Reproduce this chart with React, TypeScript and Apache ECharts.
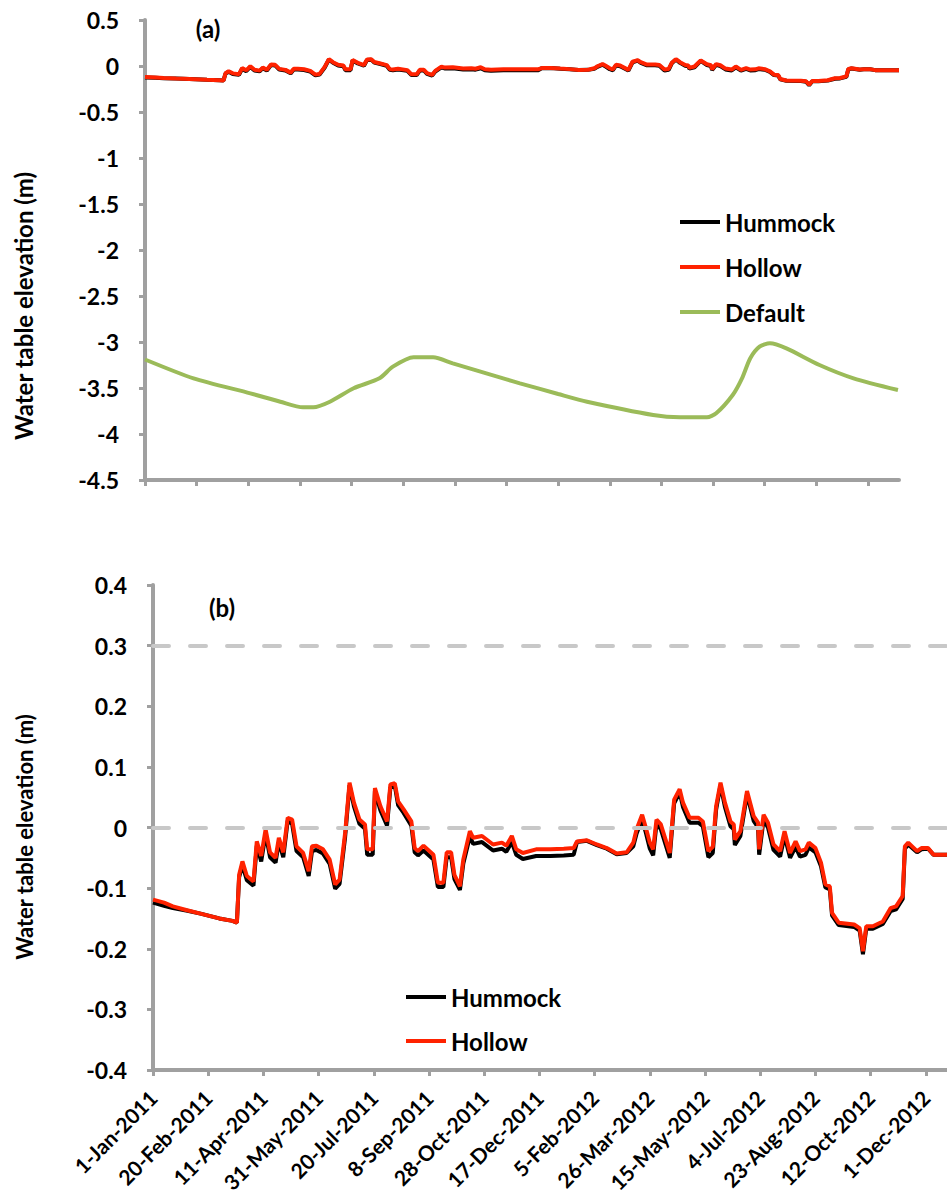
import React, { useEffect, useRef } from "react";
import * as echarts from "echarts";

// Day offsets since 1-Jan-2011 for the traced water-table records
const WT_DAYS = [0, 10, 18, 30, 43, 60, 72, 76, 78, 81, 85, 91, 94, 98, 102, 106, 111, 114, 118, 122, 126, 130, 136, 141, 144, 148, 154, 160, 165, 169, 174, 178, 182, 187, 192, 194, 199, 201, 206, 212, 215, 219, 222, 227, 234, 237, 240, 245, 254, 258, 263, 266, 270, 273, 278, 281, 287, 290, 298, 308, 316, 320, 325, 329, 335, 347, 360, 372, 381, 384, 393, 402, 411, 420, 429, 435, 438, 443, 446, 450, 453, 456, 460, 468, 472, 477, 480, 486, 494, 498, 503, 507, 510, 514, 518, 523, 526, 527, 532, 538, 544, 548, 549, 553, 557, 562, 568, 572, 577, 582, 586, 591, 594, 600, 605, 609, 613, 615, 621, 635, 640, 643, 646, 652, 661, 668, 673, 679, 681, 684, 692, 696, 702, 707, 730];

const HOLLOW = [-0.119, -0.124, -0.130, -0.136, -0.142, -0.150, -0.154, -0.157, -0.078, -0.056, -0.080, -0.089, -0.023, -0.047, -0.003, -0.041, -0.050, -0.017, -0.041, 0.016, 0.013, -0.031, -0.042, -0.072, -0.031, -0.030, -0.036, -0.053, -0.094, -0.086, -0.009, 0.074, 0.041, 0.013, 0.005, -0.036, -0.036, 0.065, 0.035, 0.010, 0.071, 0.073, 0.043, 0.030, 0.010, -0.034, -0.039, -0.030, -0.045, -0.091, -0.091, -0.041, -0.041, -0.078, -0.097, -0.053, -0.006, -0.017, -0.014, -0.028, -0.025, -0.030, -0.014, -0.036, -0.042, -0.036, -0.036, -0.035, -0.034, -0.023, -0.021, -0.028, -0.034, -0.043, -0.041, -0.025, -0.003, 0.021, 0.002, -0.025, -0.036, 0.013, 0.005, -0.042, 0.046, 0.063, 0.041, 0.016, 0.016, 0.010, -0.039, -0.032, 0.035, 0.074, 0.041, 0.010, 0.005, -0.020, -0.006, 0.060, 0.019, 0.008, -0.036, 0.021, 0.008, -0.028, -0.039, -0.006, -0.042, -0.023, -0.039, -0.036, -0.025, -0.034, -0.058, -0.094, -0.097, -0.141, -0.157, -0.160, -0.166, -0.204, -0.163, -0.163, -0.155, -0.133, -0.130, -0.113, -0.031, -0.025, -0.039, -0.034, -0.034, -0.045, -0.045];

const HUMMOCK = [-0.124, -0.129, -0.133, -0.137, -0.142, -0.150, -0.154, -0.157, -0.082, -0.062, -0.087, -0.096, -0.030, -0.056, -0.010, -0.049, -0.058, -0.024, -0.049, 0.011, 0.006, -0.039, -0.049, -0.080, -0.039, -0.037, -0.043, -0.060, -0.101, -0.093, -0.016, 0.070, 0.035, 0.006, -0.002, -0.045, -0.045, 0.060, 0.028, 0.003, 0.066, 0.069, 0.037, 0.024, 0.003, -0.041, -0.046, -0.038, -0.053, -0.098, -0.098, -0.049, -0.049, -0.085, -0.103, -0.060, -0.015, -0.027, -0.024, -0.038, -0.035, -0.040, -0.024, -0.045, -0.052, -0.047, -0.047, -0.046, -0.045, -0.024, -0.022, -0.029, -0.035, -0.044, -0.042, -0.031, -0.010, 0.014, -0.006, -0.035, -0.046, 0.006, -0.003, -0.050, 0.040, 0.058, 0.034, 0.008, 0.008, 0.002, -0.049, -0.042, 0.029, 0.070, 0.034, 0.002, -0.003, -0.029, -0.014, 0.055, 0.011, 0.000, -0.045, 0.013, 0.000, -0.037, -0.048, -0.014, -0.050, -0.032, -0.048, -0.045, -0.033, -0.041, -0.064, -0.099, -0.102, -0.145, -0.161, -0.164, -0.170, -0.209, -0.167, -0.167, -0.159, -0.138, -0.135, -0.118, -0.035, -0.028, -0.041, -0.036, -0.035, -0.045, -0.045];

// Default simulation (panel a)
const DEFAULT_DAYS = [0, 47, 102, 131, 153, 163, 179, 202, 227, 240, 260, 279, 298, 350, 363, 400, 428, 492, 518, 544, 553, 569, 578, 586, 595, 605, 621, 653, 686, 729];
const DEFAULT_VALUES = [-3.19, -3.395, -3.558, -3.649, -3.71, -3.71, -3.649, -3.503, -3.395, -3.268, -3.166, -3.166, -3.232, -3.406, -3.449, -3.565, -3.649, -3.793, -3.818, -3.818, -3.775, -3.576, -3.395, -3.177, -3.051, -3.014, -3.069, -3.25, -3.395, -3.522];

const TICK_LABELS = ["1-Jan-2011", "20-Feb-2011", "11-Apr-2011", "31-May-2011", "20-Jul-2011", "8-Sep-2011", "28-Oct-2011", "17-Dec-2011", "5-Feb-2012", "26-Mar-2012", "15-May-2012", "4-Jul-2012", "23-Aug-2012", "12-Oct-2012", "1-Dec-2012"];
const MONTHS = ["Jan", "Feb", "Mar", "Apr", "May", "Jun", "Jul", "Aug", "Sep", "Oct", "Nov", "Dec"];
const REF_LINES = [0.3, 0];

const FONT = "Lato, 'Open Sans', sans-serif";

function dayOf(label: string): number {
  const [d, m, y] = label.split("-");
  return Math.round((Date.UTC(+y, MONTHS.indexOf(m), +d) - Date.UTC(2011, 0, 1)) / 86400000);
}
const TICK_DAYS = TICK_LABELS.map(dayOf);

const pairs = (xs: number[], ys: number[]) => xs.map((x, i) => [x, ys[i]]);

export default function App() {
  const ref = useRef<HTMLDivElement>(null);
  useEffect(() => {
    if (!ref.current) return;
    const chart = echarts.init(ref.current, undefined, { renderer: "svg" });
    const axisGray = "#a0a0a0";
    const xAxisBase = (gi: number, showLabels: boolean) => ({
      gridIndex: gi,
      type: "value",
      min: 0,
      max: 730,
      axisLine: { onZero: false, lineStyle: { color: axisGray, width: 4 } },
      axisTick: { show: true, customValues: TICK_DAYS, length: 6, lineStyle: { color: axisGray, width: 3 } },
      axisLabel: {
        show: showLabels,
        customValues: TICK_DAYS,
        rotate: 45,
        margin: 24,
        color: "#000",
        fontWeight: "bold",
        fontSize: 21,
        fontFamily: FONT,
        formatter: (v: number) => TICK_LABELS[TICK_DAYS.indexOf(Math.round(v))] ?? "",
      },
      splitLine: { show: false },
    });
    const yAxisBase = (gi: number, min: number, max: number, interval: number) => ({
      gridIndex: gi,
      type: "value",
      min,
      max,
      interval,
      axisLine: { show: true, onZero: false, lineStyle: { color: axisGray, width: 4 } },
      axisTick: { show: true, length: 6, lineStyle: { color: axisGray, width: 3 } },
      axisLabel: {
        margin: 26,
        color: "#000",
        fontWeight: "bold",
        fontSize: 23,
        fontFamily: FONT,
        formatter: (v: number) => String(Math.round(v * 10) / 10),
      },
      splitLine: { show: false },
    });
    const lineSeries = (name: string, xi: number, data: number[][], color: string, extra: any = {}) => ({
      name,
      type: "line",
      xAxisIndex: xi,
      yAxisIndex: xi,
      data,
      showSymbol: false,
      symbol: "none",
      lineStyle: { color, width: 4 },
      itemStyle: { color },
      ...extra,
    });
    const legendText = { fontSize: 24, fontWeight: "bold", color: "#000", fontFamily: FONT, lineHeight: 28 };
    chart.setOption({
      animation: false,
      backgroundColor: "#fff",
      grid: [
        { left: 145, top: 20, width: 754, height: 460, containLabel: false, outerBoundsMode: "none" },
        { left: 153, top: 585, width: 806, height: 485, containLabel: false, outerBoundsMode: "none" },
      ],
      xAxis: [xAxisBase(0, false), xAxisBase(1, true)],
      yAxis: [yAxisBase(0, -4.5, 0.5, 0.5), yAxisBase(1, -0.4, 0.4, 0.1)],
      legend: [
        {
          data: ["Hummock", "Hollow", "Default"],
          orient: "vertical",
          left: 680,
          top: 208,
          padding: 0,
          itemWidth: 40,
          itemHeight: 4,
          itemGap: 17,
          icon: "rect",
          selectedMode: false,
          textStyle: legendText,
        },
        {
          data: ["Hummock", "Hollow"],
          orient: "vertical",
          left: 406,
          top: 983,
          padding: 0,
          itemWidth: 40,
          itemHeight: 4,
          itemGap: 16,
          icon: "rect",
          selectedMode: false,
          textStyle: legendText,
        },
      ],
      series: [
        lineSeries("Hummock", 0, pairs(WT_DAYS, HUMMOCK), "#000000"),
        lineSeries("Hollow", 0, pairs(WT_DAYS, HOLLOW), "#ff2200"),
        lineSeries("Default", 0, pairs(DEFAULT_DAYS, DEFAULT_VALUES), "#9bbb59", { smooth: 0.25 }),
        lineSeries("Hummock", 1, pairs(WT_DAYS, HUMMOCK), "#000000"),
        lineSeries("Hollow", 1, pairs(WT_DAYS, HOLLOW), "#ff2200", {
          markLine: {
            silent: true,
            symbol: "none",
            label: { show: false },
            lineStyle: { color: "#c8c8c8", type: [16, 21], width: 4, cap: "round" },
            data: REF_LINES.map((v) => ({ yAxis: v })),
          },
        }),
      ],
      graphic: [
        { type: "text", x: 208, y: 28, style: { text: "(a)", font: `bold 24px ${FONT}`, fill: "#000", align: "center", verticalAlign: "middle" } },
        { type: "text", x: 222, y: 607, style: { text: "(b)", font: `bold 24px ${FONT}`, fill: "#000", align: "center", verticalAlign: "middle" } },
        { type: "text", x: 23, y: 306, rotation: Math.PI / 2, style: { text: "Water table elevation (m)", font: `bold 24px ${FONT}`, fill: "#000", align: "center", verticalAlign: "middle" } },
        { type: "text", x: 24, y: 837, rotation: Math.PI / 2, style: { text: "Water table elevation (m)", font: `bold 22px ${FONT}`, fill: "#000", align: "center", verticalAlign: "middle" } },
      ],
    });
    return () => chart.dispose();
  }, []);
  return <div ref={ref} style={{ position: "fixed", left: 0, top: 0, width: 947, height: 1196 }} />;
}
